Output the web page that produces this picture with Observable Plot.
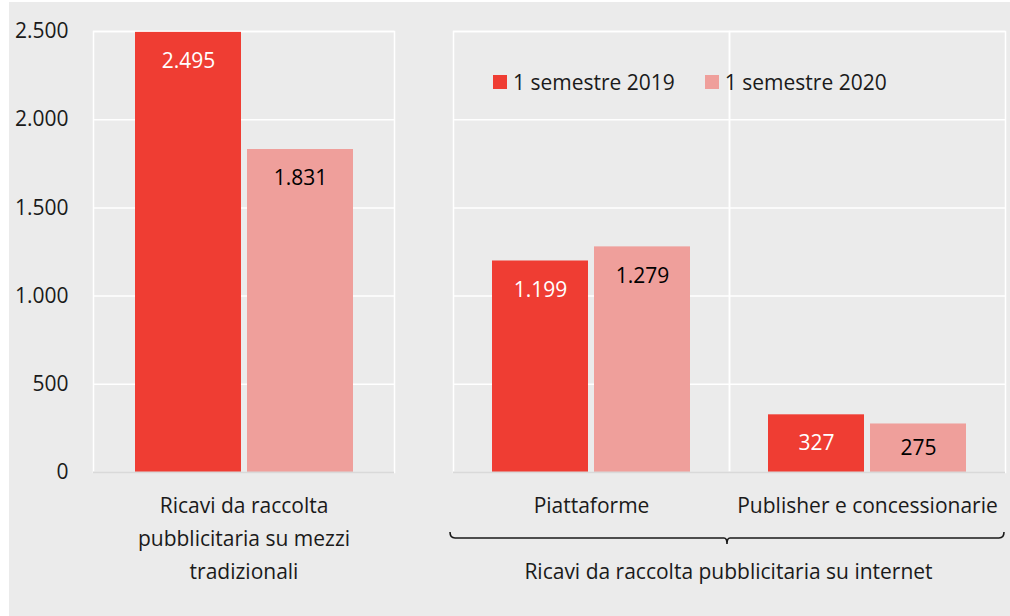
<!DOCTYPE html>
<html>
<head>
<meta charset="utf-8">
<script src="https://cdn.jsdelivr.net/npm/d3@7"></script>
<script src="https://cdn.jsdelivr.net/npm/@observablehq/plot@0.6"></script>
<style>
  html, body { margin: 0; padding: 0; background: #ffffff; }
  #wrap { position: relative; width: 1010px; height: 616px; overflow: hidden; font-family: "Open Sans", sans-serif; }
  #bg { position: absolute; left: 9px; top: 2px; right: 0; bottom: 0; background: #ebebeb; }
  .panel { position: absolute; top: 0; }
  #legend { position: absolute; left: 493px; top: 68px; display: flex; align-items: center; font-size: 21px; color: #1a1a1a; white-space: nowrap; }
  #legend .item { display: flex; align-items: center; margin-right: 30px; }
  #legend .sw { width: 14px; height: 14px; margin-right: 6px; }
  #group { position: absolute; left: 452px; width: 553px; top: 557px; text-align: center; font-size: 21px; color: #1a1a1a; }
</style>
</head>
<body>
<div id="wrap">
  <div id="bg"></div>
  <div id="left" class="panel" style="left:0px"></div>
  <div id="right" class="panel" style="left:420px"></div>
  <div id="legend"></div>
  <svg id="brace" width="1010" height="616" style="position:absolute;left:0;top:0;pointer-events:none"></svg>
  <div id="group"></div>
</div>
<script>
// ---- data ----
const categories = ["Ricavi da raccolta pubblicitaria su mezzi tradizionali", "Piattaforme", "Publisher e concessionarie"];
const categoryLabels = ["Ricavi da raccolta\npubblicitaria su mezzi\ntradizionali", "Piattaforme", "Publisher e concessionarie"];
const series = ["1 semestre 2019", "1 semestre 2020"];
const values2019 = [2495, 1199, 327];
const values2020 = [1831, 1279, 275];
const yTicks = [0, 500, 1000, 1500, 2000, 2500];
const groupLabel = "Ricavi da raccolta pubblicitaria su internet";
const colors = ["#ef3d33", "#ef9f9b"];

const fmt = v => d3.format(",")(v).replace(/,/g, ".");
const rows = [];
categories.forEach((c, i) => {
  rows.push({cat: c, series: series[0], value: values2019[i]});
  rows.push({cat: c, series: series[1], value: values2020[i]});
});
const labelRows = categories.map((c, i) => ({cat: c, label: categoryLabels[i]}));

const FONT = "'Open Sans', sans-serif";
const FS = 21;
// label sits just inside the bar top; short bars get a centred label
const labelY = d => Math.max(d.value - 165, d.value / 2);

function makePanel(cats, opts) {
  const data = rows.filter(r => cats.includes(r.cat));
  const labs = labelRows.filter(r => cats.includes(r.cat));
  const marks = [
    Plot.gridY(yTicks, {stroke: "#ffffff", strokeOpacity: 1, strokeWidth: 1.5}),
    Plot.frame({stroke: "#ffffff", strokeOpacity: 1, strokeWidth: 1.5}),
    Plot.barY(data, {fx: "cat", x: "series", y: "value", fill: "series"}),
    Plot.ruleY([0], {stroke: "#d9d9d9", strokeWidth: 2}),
    Plot.text(data.filter(d => d.series === series[0]), {fx: "cat", x: "series", y: labelY, text: d => fmt(d.value), fill: "#ffffff", fontSize: FS}),
    Plot.text(data.filter(d => d.series === series[1]), {fx: "cat", x: "series", y: labelY, text: d => fmt(d.value), fill: "#000000", fontSize: FS}),
    Plot.text(labs, {fx: "cat", text: "label", frameAnchor: "bottom", lineAnchor: "top", dy: 17, fontSize: FS, lineHeight: 1.57, fill: "#1a1a1a"})
  ];
  if (opts.axis) {
    marks.unshift(Plot.axisY(yTicks, {tickSize: 0, tickPadding: 25, tickFormat: fmt, fontSize: FS, fill: "#1a1a1a", label: null}));
  }
  return Plot.plot({
    width: opts.width,
    height: 616,
    marginLeft: opts.marginLeft,
    marginRight: opts.marginRight,
    marginTop: 31,
    marginBottom: 144,
    style: {background: "transparent", fontFamily: FONT, fontSize: FS + "px", color: "#1a1a1a"},
    fx: {domain: cats, padding: 0, axis: null},
    x: {domain: series, paddingInner: 0.057, paddingOuter: 0.37, axis: null},
    y: {domain: [0, 2500], axis: null, label: null},
    color: {domain: series, range: colors},
    marks
  });
}

document.getElementById("left").appendChild(makePanel([categories[0]], {width: 420, marginLeft: 93, marginRight: 26, axis: true}));
document.getElementById("right").appendChild(makePanel([categories[1], categories[2]], {width: 590, marginLeft: 32, marginRight: 5, axis: false}));

// legend
const legend = d3.select("#legend");
series.forEach((s, i) => {
  const it = legend.append("div").attr("class", "item");
  it.append("div").attr("class", "sw").style("background", colors[i]);
  it.append("span").text(s);
});

// brace under the internet group
const bx0 = 420 + 32 - 2, bx1 = 420 + 590 - 5 - 1, by = 538, bmid = (bx0 + bx1) / 2;
d3.select("#brace").append("path")
  .attr("d", `M${bx0},${by - 6} Q${bx0},${by} ${bx0 + 5},${by} L${bmid - 3},${by} Q${bmid},${by} ${bmid},${by + 6} Q${bmid},${by} ${bmid + 3},${by} L${bx1 - 5},${by} Q${bx1},${by} ${bx1},${by - 6}`)
  .attr("fill", "none").attr("stroke", "#1a1a1a").attr("stroke-width", 1.6);
d3.select("#group").text(groupLabel);
</script>
</body>
</html>
